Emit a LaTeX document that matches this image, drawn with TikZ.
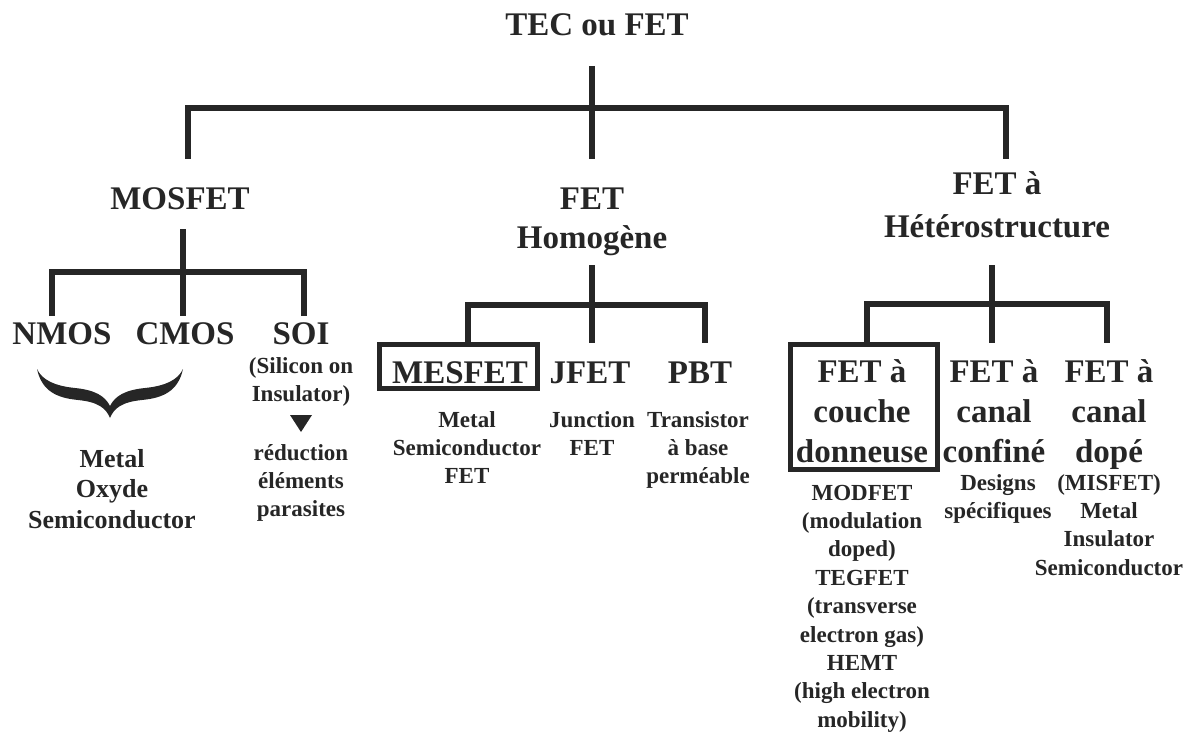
\documentclass[tikz,border=0pt]{standalone}
\usepackage{fontspec}
\setmainfont{Liberation Serif}
\definecolor{ink}{HTML}{262626}
\newcommand\ml[1]{\begin{tabular}[t]{@{}c@{}}#1\end{tabular}}
\tikzset{
  txt/.style={text=ink, inner sep=0pt, anchor=base},
  big/.style={txt, font=\fontsize{33}{39}\selectfont\bfseries},
  bigH/.style={txt, font=\fontsize{33}{43}\selectfont\bfseries},
  bigC/.style={txt, font=\fontsize{33}{40}\selectfont\bfseries},
  small/.style={txt, font=\fontsize{23}{28.4}\selectfont\bfseries},
  smallL/.style={txt, font=\fontsize{26}{30.5}\selectfont\bfseries},
  branch/.style={draw=ink, line width=6pt, line join=miter, line cap=butt},
  frame/.style={draw=ink, line width=5pt, inner sep=0pt, fill=none},
}
\begin{document}
\begin{tikzpicture}[x=1pt,y=-1pt]
\useasboundingbox (0,0) rectangle (1194,733);

% ---- texts ----
\node[big] (tec) at (597,36) {TEC ou FET};
\node[big] (mos) at (180,209) {MOSFET};
\node[big] (homo) at (592,209) {\ml{FET\\Homogène}};
\node[bigH] (hetero) at (997,194) {\ml{FET à\\Hétérostructure}};

\node[big] (nmos) at (62,344) {NMOS};
\node[big] (cmos) at (185,344) {CMOS};
\node[big] (soi) at (301,344) {SOI};
\node[small] (soid) at (301,373) {\ml{(Silicon on\\Insulator)}};
\node[small] (red) at (301,460) {\ml{réduction\\éléments\\parasites}};
\node[smallL] (mosd) at (112,467) {\ml{Metal\\Oxyde\\Semiconductor}};

\node[big] (mes) at (460,383) {MESFET};
\node[big] (jfet) at (590,383) {JFET};
\node[big] (pbt) at (700,383) {PBT};
\node[small] (mesd) at (467,427) {\ml{Metal\\Semiconductor\\FET}};
\node[small] (jfetd) at (592,427) {\ml{Junction\\FET}};
\node[small] (pbtd) at (698,427) {\ml{Transistor\\à base\\perméable}};

\node[bigC] (couche) at (862,382) {\ml{FET à\\couche\\donneuse}};
\node[bigC] (confine) at (994,382) {\ml{FET à\\canal\\confiné}};
\node[bigC] (dope) at (1109,382) {\ml{FET à\\canal\\dopé}};
\node[small] (couched) at (862,500) {\ml{MODFET\\(modulation\\doped)\\TEGFET\\(transverse\\electron gas)\\HEMT\\(high electron\\mobility)}};
\node[small] (confined) at (998,490) {\ml{Designs\\spécifiques}};
\node[small] (doped) at (1109,490) {\ml{(MISFET)\\Metal\\Insulator\\Semiconductor}};

% ---- frames ----
\node[frame, minimum width=158pt, minimum height=44pt] (mesbox) at (458.5,366.5) {};
\node[frame, minimum width=147pt, minimum height=125.5pt] (couchebox) at (863.5,407) {};

% ---- junction coordinates ----
\coordinate (t1) at (592,66);   \coordinate (t2) at (592,159);
\coordinate (a1) at (188,159);  \coordinate (a2) at (188,108);
\coordinate (a3) at (1006,108); \coordinate (a4) at (1006,159);

\coordinate (m1) at (183,229);  \coordinate (m2) at (183,316);
\coordinate (b1) at (52,316);   \coordinate (b2) at (52,272);
\coordinate (b3) at (304,272);  \coordinate (b4) at (304,316);

\coordinate (h1) at (592,265);  \coordinate (h2) at (592,343);
\coordinate (c2) at (468,305);
\coordinate (c3) at (705,305);  \coordinate (c4) at (705,343);

\coordinate (e1) at (992,265);  \coordinate (e2) at (992,343);
\coordinate (d2) at (867,304);
\coordinate (d3) at (1107,304); \coordinate (d4) at (1107,343);

% ---- connectors ----
\draw[branch, line width=5.5pt] (t1) -- (t2);
\draw[branch, line width=5.5pt] (a1) -- (a2) -- (a3) -- (a4);

\draw[branch] (m1) -- (m2);
\draw[branch, line width=6.5pt] (b1) -- (b2) -- (b3) -- (b4);

\draw[branch, line width=5.5pt] (h1) -- (h2);
\draw[branch, line width=5.5pt] (mesbox.north -| c2) -- (c2) -- (c3) -- (c4);

\draw[branch] (e1) -- (e2);
\draw[branch, line width=6.5pt] (couchebox.north -| d2) -- (d2) -- (d3) -- (d4);

% ---- SOI arrow triangle ----
\fill[ink] (290,415) -- (312,415) -- (301,432) -- cycle;

% ---- brace under NMOS / CMOS ----
\fill[ink] (37,369)
  .. controls (42,392) and (58,398) .. (78,400)
  .. controls (98,402) and (106,408) .. (110,418)
  .. controls (114,408) and (122,402) .. (142,400)
  .. controls (162,398) and (178,392) .. (183,369)
  .. controls (178,380) and (165,386) .. (145,388)
  .. controls (125,390) and (115,396) .. (110,406)
  .. controls (105,396) and (95,390) .. (75,388)
  .. controls (55,386) and (42,380) .. (37,369) -- cycle;
\end{tikzpicture}
\end{document}
